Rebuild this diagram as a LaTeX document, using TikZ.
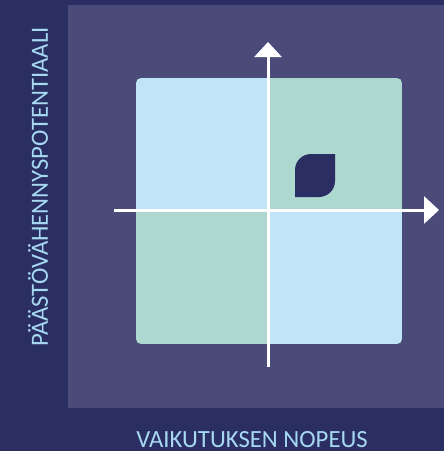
\documentclass[tikz,border=0pt]{standalone}
\usepackage{fontspec}
\setmainfont{Carlito}
\usetikzlibrary{arrows.meta}

\definecolor{navy}{HTML}{2B2E62}
\definecolor{panel}{HTML}{4A4B79}
\definecolor{lblue}{HTML}{C0E4F8}
\definecolor{mint}{HTML}{ACD8CF}
\definecolor{labelblue}{HTML}{A6D8F2}

\begin{document}
\begin{tikzpicture}[x=1pt, y=-1pt, >={Triangle[width=27pt,length=15pt]}]
    \tikzstyle{quad}=[rectangle,inner sep=0pt,minimum width=133pt,minimum height=133pt]
    \tikzstyle{axis}=[->,white,line width=3pt]
    \tikzstyle{axislabel}=[text=labelblue,font=\fontsize{24.7}{30}\selectfont,inner sep=0pt]
    % background and panel
    \fill[navy] (0,0) rectangle (444,451);
    \useasboundingbox (0,0) rectangle (444,451);
    \fill[panel] (68,5) rectangle (444,408);
    % quadrants
    \begin{scope}
      \clip[rounded corners=5pt] (136,78) rectangle (402,344);
      \node[quad,fill=lblue] (nw) at (202.5,144.5) {};
      \node[quad,fill=mint] (ne) at (335.5,144.5) {};
      \node[quad,fill=mint] (sw) at (202.5,277.5) {};
      \node[quad,fill=lblue] (se) at (335.5,277.5) {};
    \end{scope}
    % leaf marker
    \fill[navy] (295,197) -- (295,170) arc[start angle=180,end angle=270,radius=16] -- (335,154) -- (335,181) arc[start angle=0,end angle=90,radius=16] -- cycle;
    % axes
    \coordinate (xstart) at (114,210);
    \coordinate (xend) at (439,210);
    \coordinate (ystart) at (268,367);
    \coordinate (yend) at (268,42);
    \draw[axis] (xstart) -- (xend);
    \draw[axis] (ystart) -- (yend);
    % labels
    \node[axislabel,anchor=base] (xlabel) at (252,447) {VAIKUTUKSEN NOPEUS};
    \node[axislabel,rotate=90] (ylabel) at (38,187) {PÄÄSTÖVÄHENNYSPOTENTIAALI};
\end{tikzpicture}
\end{document}
